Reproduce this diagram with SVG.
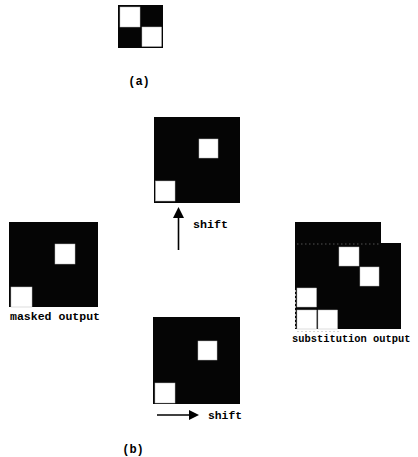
<svg xmlns="http://www.w3.org/2000/svg" width="418" height="457" viewBox="0 0 418 457">
<defs>
<style>
.blk{fill:#050505}
.wht{fill:#fff;stroke:#bbb;stroke-width:0.5}
.lbl{font-family:"Liberation Mono","DejaVu Sans Mono",monospace;font-weight:bold;font-size:11.5px;fill:#000}
.sm{font-size:10.4px}
.par{font-size:12px}
.con{stroke:#000;stroke-width:1.6;fill:none}
.head{fill:#000}
</style>
</defs>
<rect width="418" height="457" fill="#fff"/>
<g id="node-a">
<rect class="blk" x="118" y="5" width="45" height="43"/>
<rect class="wht" x="120" y="7" width="20" height="20"/>
<rect class="wht" x="142" y="27" width="19.5" height="19.5"/>
<text class="lbl par" x="139" y="85" text-anchor="middle">(a)</text>
</g>
<g id="node-up-shifted">
<rect class="blk" x="154" y="117" width="86" height="86"/>
<rect class="wht" x="199" y="139" width="19" height="19"/>
<rect class="wht" x="155.5" y="181" width="19.5" height="20"/>
</g>
<g id="node-masked">
<rect class="blk" x="9" y="222" width="89" height="85"/>
<rect class="wht" x="55" y="244" width="20" height="20"/>
<rect class="wht" x="11" y="287" width="21" height="20"/>
<text class="lbl" x="10" y="320" textLength="90" lengthAdjust="spacingAndGlyphs">masked output</text>
</g>
<g id="node-right-shifted">
<rect class="blk" x="153" y="317" width="87" height="87"/>
<rect class="wht" x="198" y="341" width="19" height="19"/>
<rect class="wht" x="155" y="383" width="20" height="20"/>
</g>
<g id="node-substitution">
<path class="blk" d="M295,222 H381 V243 H401 V329 H295 Z"/>
<line x1="297" y1="244" x2="380" y2="244" stroke="#888" stroke-width="0.6" stroke-dasharray="1.5,2.5"/>
<rect class="wht" x="339" y="247" width="20" height="19"/>
<rect class="wht" x="360" y="267" width="19" height="19"/>
<rect class="wht" x="297" y="288" width="19.5" height="19"/>
<rect class="wht" x="297" y="310" width="19.5" height="19"/>
<rect class="wht" x="318" y="310" width="19.5" height="19"/>
<line x1="295.5" y1="290" x2="295.5" y2="330" stroke="#ccc" stroke-width="0.8" stroke-dasharray="2,2"/>
<line x1="297" y1="331.5" x2="340" y2="331.5" stroke="#ccc" stroke-width="0.8" stroke-dasharray="2,2"/>
<text class="lbl sm" x="292" y="342">substitution output</text>
</g>
<g id="connectors">
<line class="con" x1="178.5" y1="250" x2="178.5" y2="216"/>
<polygon class="head" points="178.5,207 173,218 184,218"/>
<text class="lbl" x="193" y="228" textLength="35" lengthAdjust="spacingAndGlyphs">shift</text>
<line class="con" x1="157" y1="415" x2="191" y2="415"/>
<polygon class="head" points="199,415 189,410 189,420"/>
<text class="lbl" x="208" y="419" textLength="34" lengthAdjust="spacingAndGlyphs">shift</text>
</g>
<text class="lbl par" x="133" y="453" text-anchor="middle">(b)</text>
</svg>
